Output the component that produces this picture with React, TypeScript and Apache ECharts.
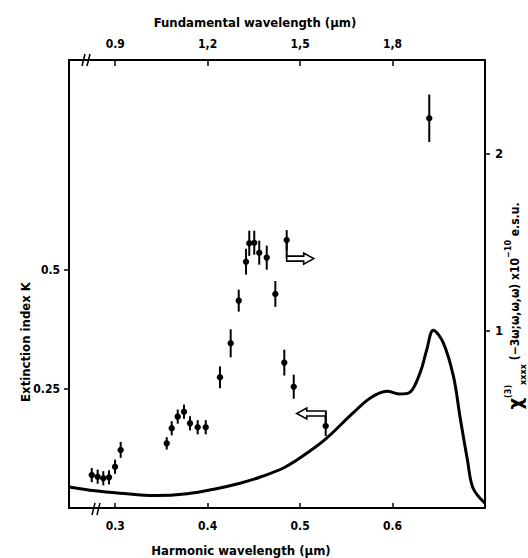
import React, { useEffect, useRef } from "react";
import * as echarts from "echarts";

// Harmonic wavelength (µm) of the measured points, chi(3) values (1e-10 esu) and half error bars
const pointX = [0.2746, 0.281, 0.2871, 0.2933, 0.2998, 0.3059, 0.3557, 0.3611, 0.3676, 0.3744, 0.3809, 0.3892, 0.3979, 0.4133, 0.4249, 0.4336, 0.4415, 0.445, 0.4504, 0.4558, 0.4639, 0.4732, 0.4855, 0.4829, 0.4931, 0.5277, 0.6397];
const pointChi = [0.186, 0.177, 0.168, 0.173, 0.233, 0.328, 0.365, 0.45, 0.516, 0.544, 0.478, 0.456, 0.456, 0.738, 0.93, 1.171, 1.391, 1.495, 1.498, 1.442, 1.414, 1.209, 1.513, 0.821, 0.685, 0.463, 2.201];
const pointErr = [0.04, 0.04, 0.04, 0.04, 0.04, 0.045, 0.035, 0.04, 0.04, 0.04, 0.04, 0.04, 0.04, 0.062, 0.079, 0.062, 0.073, 0.071, 0.068, 0.068, 0.068, 0.073, 0.056, 0.073, 0.068, 0.056, 0.134];

// Extinction index curve
const curveX = [0.25, 0.278, 0.305, 0.343, 0.378, 0.408, 0.435, 0.457, 0.484, 0.511, 0.529, 0.557, 0.576, 0.594, 0.608, 0.619, 0.63, 0.637, 0.644, 0.655, 0.666, 0.673, 0.681, 0.687, 0.7];
const curveK = [0.044, 0.036, 0.031, 0.026, 0.03, 0.04, 0.052, 0.065, 0.086, 0.12, 0.147, 0.199, 0.231, 0.245, 0.239, 0.243, 0.285, 0.332, 0.373, 0.346, 0.275, 0.191, 0.101, 0.042, 0.01];

const bottomTicks = [0.3, 0.4, 0.5, 0.6];
const topTickLabels = ["0.9", "1,2", "1,5", "1,8"];
const leftTicks = [0.25, 0.5];
const rightTicks = [1, 2];

const FONT = "'DejaVu Sans Condensed', 'DejaVu Sans', sans-serif";
const GRID = { left: 69, right: 43, top: 60, bottom: 50 };

export default function App() {
  const ref = useRef<HTMLDivElement>(null);
  useEffect(() => {
    if (!ref.current) return;
    const chart = echarts.init(ref.current, null, { renderer: "svg" });
    const axisLine = { show: true, onZero: false, lineStyle: { color: "#000", width: 2 } };
    const labelStyle = { color: "#000", fontFamily: FONT, fontWeight: "bold" as const, fontSize: 12 };
    const option: any = {
      animation: false,
      backgroundColor: "#fff",
      grid: { ...GRID },
      xAxis: [
        {
          type: "value", min: 0.25, max: 0.7, position: "bottom",
          axisLine, splitLine: { show: false },
          axisTick: { show: true, inside: true, length: 5, customValues: bottomTicks, lineStyle: { color: "#000", width: 1.5 } },
          axisLabel: { ...labelStyle, margin: 12, customValues: bottomTicks, formatter: (v: number) => v.toFixed(1) },
        },
        {
          type: "value", min: 0.25, max: 0.7, position: "top",
          axisLine, splitLine: { show: false },
          axisTick: { show: true, inside: true, length: 6, customValues: bottomTicks, lineStyle: { color: "#000", width: 1.5 } },
          axisLabel: {
            ...labelStyle, margin: 10, customValues: bottomTicks,
            formatter: (v: number) => {
              const i = bottomTicks.findIndex((t) => Math.abs(t - v) < 1e-6);
              return i >= 0 ? topTickLabels[i] : "";
            },
          },
        },
      ],
      yAxis: [
        {
          type: "value", min: 0, max: 0.94, position: "left",
          axisLine, splitLine: { show: false },
          axisTick: { show: true, inside: false, length: 5, customValues: leftTicks, lineStyle: { color: "#000", width: 1.5 } },
          axisLabel: { ...labelStyle, margin: 9, customValues: leftTicks, formatter: (v: number) => String(v) },
        },
        {
          type: "value", min: 0, max: 2.53, position: "right",
          axisLine, splitLine: { show: false },
          axisTick: { show: true, inside: false, length: 5, customValues: rightTicks, lineStyle: { color: "#000", width: 1.5 } },
          axisLabel: { ...labelStyle, fontSize: 13, margin: 10, customValues: rightTicks, formatter: (v: number) => String(v) },
        },
      ],
      series: [
        {
          type: "line", xAxisIndex: 0, yAxisIndex: 0,
          data: curveX.map((x, i) => [x, curveK[i]]),
          smooth: 0.35, showSymbol: false,
          lineStyle: { color: "#000", width: 3 },
        },
        {
          type: "custom", xAxisIndex: 0, yAxisIndex: 1,
          data: pointX.map((x, i) => [x, pointChi[i], pointErr[i]]),
          encode: { x: 0, y: 1 },
          renderItem: (params: any, api: any) => {
            const x = api.value(0), y = api.value(1), e = api.value(2);
            const p = api.coord([x, y]);
            const t = api.coord([x, y + e]);
            const b = api.coord([x, y - e]);
            return {
              type: "group",
              children: [
                { type: "line", shape: { x1: p[0], y1: t[1], x2: p[0], y2: b[1] }, style: { stroke: "#000", lineWidth: 2 } },
                { type: "circle", shape: { cx: p[0], cy: p[1], r: 3.2 }, style: { fill: "#000" } },
              ],
            };
          },
        },
      ],
    };
    chart.setOption(option);

    // annotation arrows attached to data points
    const pr = chart.convertToPixel({ xAxisIndex: 0, yAxisIndex: 1 } as any, [pointX[22], pointChi[22]]) as number[];
    const pl = chart.convertToPixel({ xAxisIndex: 0, yAxisIndex: 1 } as any, [pointX[25], pointChi[25]]) as number[];
    const L = GRID.left, T = GRID.top, B = 558 - GRID.bottom;
    const arrowStyle = { fill: "#fff", stroke: "#000", lineWidth: 1.6 };
    const lineStyle = { stroke: "#000", lineWidth: 1.5 };
    const graphic: any[] = [
      { type: "line", shape: { x1: pr[0], y1: pr[1], x2: pr[0], y2: pr[1] + 18 }, style: { stroke: "#000", lineWidth: 2 } },
      {
        type: "polygon",
        shape: { points: [[pr[0], pr[1] + 16], [pr[0] + 17, pr[1] + 16], [pr[0] + 17, pr[1] + 13], [pr[0] + 27, pr[1] + 18.5], [pr[0] + 17, pr[1] + 24], [pr[0] + 17, pr[1] + 21], [pr[0], pr[1] + 21]] },
        style: arrowStyle,
      },
      { type: "line", shape: { x1: pl[0], y1: pl[1], x2: pl[0], y2: pl[1] - 15 }, style: { stroke: "#000", lineWidth: 2 } },
      {
        type: "polygon",
        shape: { points: [[pl[0], pl[1] - 15], [pl[0] - 19, pl[1] - 15], [pl[0] - 19, pl[1] - 18], [pl[0] - 29, pl[1] - 12.5], [pl[0] - 19, pl[1] - 7], [pl[0] - 19, pl[1] - 10], [pl[0], pl[1] - 10]] },
        style: arrowStyle,
      },
      // axis break marks
      { type: "line", shape: { x1: L + 13, y1: T + 6, x2: L + 16, y2: T - 6 }, style: lineStyle },
      { type: "line", shape: { x1: L + 18, y1: T + 6, x2: L + 21, y2: T - 6 }, style: lineStyle },
      { type: "line", shape: { x1: L + 23, y1: B + 7, x2: L + 26, y2: B - 5 }, style: lineStyle },
      { type: "line", shape: { x1: L + 28, y1: B + 7, x2: L + 31, y2: B - 5 }, style: lineStyle },
      // axis titles
      {
        type: "text", x: 255, y: 22,
        style: { text: "Fundamental wavelength (µm)", fill: "#000", font: `bold 13px ${FONT}`, align: "center", verticalAlign: "middle" },
      },
      {
        type: "text", x: 241, y: 550,
        style: { text: "Harmonic wavelength (µm)", fill: "#000", font: `bold 13px ${FONT}`, align: "center", verticalAlign: "middle" },
      },
      {
        type: "text", x: 25, y: 342, rotation: Math.PI / 2,
        style: { text: "Extinction index K", fill: "#000", font: `bold 13px ${FONT}`, align: "center", verticalAlign: "middle" },
      },
      {
        type: "text", x: 515, y: 306, rotation: Math.PI / 2,
        style: {
          text: "{chi|χ}{sup|(3)}{sub|xxxx} (−3ω;ω,ω,ω) x10{sup|−10} e.s.u.",
          fill: "#000", font: `bold 12px ${FONT}`, align: "center", verticalAlign: "middle",
          rich: {
            chi: { fontSize: 20, fontFamily: FONT, fontWeight: "bold", fill: "#000", lineHeight: 24, verticalAlign: "middle" },
            sup: { fontSize: 9, fontFamily: FONT, fontWeight: "bold", fill: "#000", verticalAlign: "top", lineHeight: 24 },
            sub: { fontSize: 9, fontFamily: FONT, fontWeight: "bold", fill: "#000", verticalAlign: "bottom", lineHeight: 24 },
          },
        },
      },
    ];
    chart.setOption({ graphic });
    return () => chart.dispose();
  }, []);
  return <div ref={ref} style={{ position: "absolute", left: 0, top: 0, width: 528, height: 558 }} />;
}
